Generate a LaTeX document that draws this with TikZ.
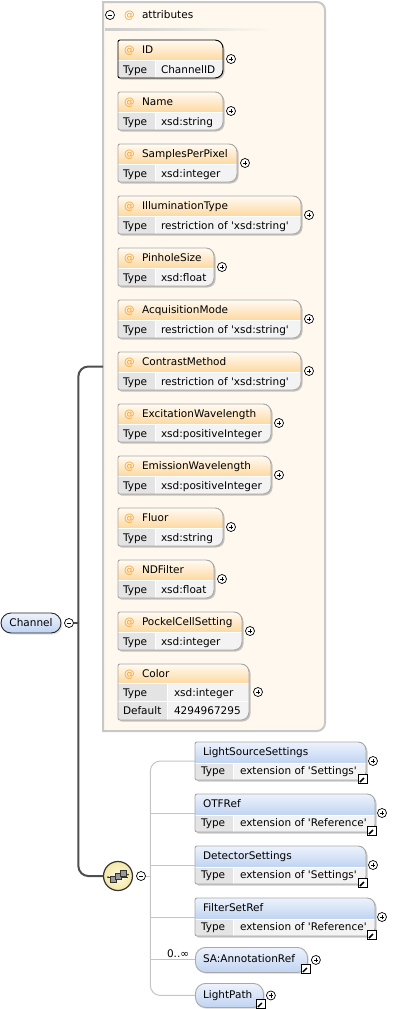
\documentclass[tikz,border=0pt]{standalone}
\usepackage{fontspec}
\setmainfont{DejaVu Sans}
\usetikzlibrary{shadows}

\definecolor{cream}{HTML}{FEF8EE}
\definecolor{frame}{HTML}{C8C8C8}
\definecolor{athead1}{HTML}{FFFBF3}
\definecolor{athead2}{HTML}{FDD9A2}
\definecolor{atsign}{HTML}{F2A43A}
\definecolor{cellkey}{HTML}{E4E4E4}
\definecolor{cellval}{HTML}{F3F3F3}
\definecolor{boxline}{HTML}{A8A8A8}
\definecolor{elhead1}{HTML}{EEF3FC}
\definecolor{elhead2}{HTML}{C0D3F2}
\definecolor{spinecol}{HTML}{4E4E4E}
\definecolor{twigcol}{HTML}{C4C4C4}
\definecolor{seqfill1}{HTML}{FFFCE4}
\definecolor{seqfill2}{HTML}{F4E7A4}

% outline of a table box: small radius on the left, large radius on the right
\newcommand\boxoutline[4]{(#1+2,#2) -- (#3-8,#2) arc[start angle=90,end angle=0,radius=8pt]
  -- (#3,#4-8) arc[start angle=0,end angle=-90,radius=8pt]
  -- (#1+2,#4) arc[start angle=-90,end angle=-180,radius=2pt]
  -- (#1,#2+2) arc[start angle=180,end angle=90,radius=2pt] -- cycle}

\newcommand\sq{\textquotesingle}

% attribute box: name, top, right edge, label, type, frame colour
\newcommand\attrbox[6]{%
  \fill[boxshadow,shift={(1.5,1.5)}] \boxoutline{118}{#2}{#3}{#2+38};
  \begin{scope}
    \clip \boxoutline{118}{#2}{#3}{#2+38};
    \fill[top color=athead1,bottom color=athead2] (118,#2) rectangle (#3,#2+20);
    \fill[cellkey] (118,#2+20) rectangle (155,#2+38);
    \fill[cellval] (155,#2+20) rectangle (#3,#2+38);
    \draw[white,line width=1pt] (118,#2+20) -- (#3,#2+20) (155,#2+20) -- (155,#2+38);
  \end{scope}
  \draw[draw=#6,line width=0.9pt] \boxoutline{118}{#2}{#3}{#2+38};
  \node[hotspot,minimum width={#3-118},minimum height=38] (#1) at (118,#2) {};
  \node[lbl,text=atsign] (#1-at) at (124,#2+13.5) {@};
  \node[lbl] (#1-name) at (142,#2+13.5) {#4};
  \node[lbl] (#1-key) at (123,#2+33) {Type};
  \node[lbl] (#1-type) at (161,#2+33) {#5};
  \node[expander] (#1-more) at ([xshift=8pt]#1.east) {};
}

% element box of the sequence: name, top, right edge, label, type
\newcommand\kidbox[5]{%
  \fill[boxshadow,shift={(1.5,1.5)}] \boxoutline{195}{#2}{#3}{#2+38};
  \begin{scope}
    \clip \boxoutline{195}{#2}{#3}{#2+38};
    \fill[top color=elhead1,bottom color=elhead2] (195,#2) rectangle (#3,#2+21);
    \fill[cellkey] (195,#2+21) rectangle (233,#2+38);
    \fill[cellval] (233,#2+21) rectangle (#3,#2+38);
    \draw[white,line width=1pt] (195,#2+21) -- (#3,#2+21) (233,#2+21) -- (233,#2+38);
  \end{scope}
  \draw[draw=boxline,line width=0.9pt] \boxoutline{195}{#2}{#3}{#2+38};
  \node[hotspot,minimum width={#3-195},minimum height=38] (#1) at (195,#2) {};
  \node[lbl] (#1-name) at (203,#2+13) {#4};
  \node[lbl] (#1-key) at (201,#2+32) {Type};
  \node[lbl] (#1-type) at (240,#2+32) {#5};
  \node[expander] (#1-more) at ([xshift=7pt]#1.east) {};
  \node[linkicon] (#1-link) at ([xshift=-3pt,yshift=1pt]#1.south east) {};
}

\begin{document}
\begin{tikzpicture}[x=1pt,y=-1pt,
  font=\fontsize{10.5}{12}\selectfont,
  lbl/.style={anchor=base west,inner sep=0pt,outer sep=0pt},
  hotspot/.style={rectangle,inner sep=0pt,outer sep=0pt,anchor=north west},
  boxshadow/.style={fill=black,opacity=0.22},
  expander/.style={circle,draw=black,fill=white,line width=0.7pt,minimum size=9pt,inner sep=0pt,
    path picture={\draw[line width=0.7pt]
      ([xshift=-2.4pt]path picture bounding box.center) -- ([xshift=2.4pt]path picture bounding box.center)
      ([yshift=-2.4pt]path picture bounding box.center) -- ([yshift=2.4pt]path picture bounding box.center);}},
  collapse/.style={circle,draw=black,fill=white,line width=0.7pt,minimum size=9pt,inner sep=0pt,
    path picture={\draw[line width=0.7pt]
      ([xshift=-2.4pt]path picture bounding box.center) -- ([xshift=2.4pt]path picture bounding box.center);}},
  linkicon/.style={rectangle,draw=black,fill=white,line width=0.8pt,minimum size=9pt,inner sep=0pt,
    path picture={
      \fill ([xshift=3pt,yshift=3pt]path picture bounding box.center)
        -- ([xshift=3pt,yshift=-1.5pt]path picture bounding box.center)
        -- ([xshift=-1.5pt,yshift=3pt]path picture bounding box.center) -- cycle;
      \draw[line width=1.5pt] ([xshift=-3pt,yshift=-3pt]path picture bounding box.center)
        -- ([xshift=1pt,yshift=1pt]path picture bounding box.center);}},
  elpill/.style={rectangle,rounded corners=10pt,draw=boxline,line width=0.9pt,
    top color=elhead1,bottom color=elhead2,inner sep=0pt,anchor=north west,
    drop shadow={shadow xshift=1.5pt,shadow yshift=-1.5pt,opacity=0.22}},
  chpill/.style={rectangle,rounded corners=10pt,draw=black!85,line width=0.9pt,
    top color=elhead1,bottom color=elhead2,inner sep=0pt,
    drop shadow={shadow xshift=1.5pt,shadow yshift=-1.5pt,opacity=0.22}},
  spineline/.style={draw=spinecol,line width=2pt},
  twigline/.style={draw=twigcol,line width=1pt},
  seqnode/.style={circle,draw=black!80,line width=1.2pt,minimum size=29pt,inner sep=0pt,
    inner color=seqfill1,outer color=seqfill2}
]
\useasboundingbox (0,0) rectangle (407,1009);

% ---- attribute group frame ----
\fill[cream] (103,2) -- (317,2) arc[start angle=90,end angle=0,radius=8pt]
  -- (325,723) arc[start angle=0,end angle=-90,radius=8pt] -- (103,731) -- cycle;
\draw[frame,line width=2pt] (103,2) -- (317,2) arc[start angle=90,end angle=0,radius=8pt]
  -- (325,723) arc[start angle=0,end angle=-90,radius=8pt] -- (103,731) -- cycle;
\node[hotspot,minimum width=222,minimum height=729] (attrs) at (103,2) {};
\node[collapse] (attrs-min) at (110,15) {};
\node[lbl,text=atsign] (attrs-at) at (124,19) {@};
\node[lbl] (attrs-title) at (142,19) {attributes};
\shade[left color=black!20,right color=cream] (105,28.5) rectangle (272,30.5);

% ---- root element and its spine ----
\node[chpill,minimum width=60,minimum height=20] (channel) at (31,623) {Channel};
\node[collapse] (chmin) at (69,623) {};
\node[seqnode] (seq) at (118,876) {};
\node[collapse] (seqmin) at (141,876) {};
\coordinate (chjoin) at ([xshift=4.5pt]chmin.east);
\draw[spineline] (chmin.east) -- (chjoin);
\draw[spineline,rounded corners=10pt] (chjoin) |- (attrs.west);
\draw[spineline,rounded corners=10pt] (chjoin) |- (seq.west);

% sequence symbol
\begin{scope}[shift={(seq.center)}]
  \draw[black!80,line width=0.8pt] (-10,1) -- (10,1);
  \fill[black!80] (-10,1) circle (1pt) (10,-1.5) circle (1pt);
  \foreach \dx/\dy in {-5/3,0/0,5/-3}
    \filldraw[fill=black!40,draw=black!80,line width=0.5pt] (\dx-3,\dy-3) rectangle (\dx+3,\dy+3);
\end{scope}

% ---- attributes ----
\attrbox{id}{40}{223}{ID}{ChannelID}{black}
\attrbox{name}{92}{223}{Name}{xsd:string}{boxline}
\attrbox{spp}{144}{237}{SamplesPerPixel}{xsd:integer}{boxline}
\attrbox{illum}{196}{301}{IlluminationType}{restriction of \sq xsd:string\sq}{boxline}
\attrbox{pinhole}{248}{214}{PinholeSize}{xsd:float}{boxline}
\attrbox{acq}{300}{301}{AcquisitionMode}{restriction of \sq xsd:string\sq}{boxline}
\attrbox{contrast}{352}{301}{ContrastMethod}{restriction of \sq xsd:string\sq}{boxline}
\attrbox{exc}{404}{271}{ExcitationWavelength}{xsd:positiveInteger}{boxline}
\attrbox{emi}{456}{271}{EmissionWavelength}{xsd:positiveInteger}{boxline}
\attrbox{fluor}{508}{223}{Fluor}{xsd:string}{boxline}
\attrbox{nd}{560}{214}{NDFilter}{xsd:float}{boxline}
\attrbox{pockel}{612}{242}{PockelCellSetting}{xsd:integer}{boxline}

% Color: three rows
\fill[boxshadow,shift={(1.5,1.5)}] \boxoutline{118}{664}{249}{720};
\begin{scope}
  \clip \boxoutline{118}{664}{249}{720};
  \fill[top color=athead1,bottom color=athead2] (118,664) rectangle (249,683);
  \fill[cellkey] (118,683) rectangle (167,720);
  \fill[cellval] (167,683) rectangle (249,720);
  \draw[white,line width=1pt] (118,683) -- (249,683) (118,701.5) -- (249,701.5) (167,683) -- (167,720);
\end{scope}
\draw[boxline,line width=0.9pt] \boxoutline{118}{664}{249}{720};
\node[hotspot,minimum width=131,minimum height=56] (color) at (118,664) {};
\node[lbl,text=atsign] (color-at) at (124,677.5) {@};
\node[lbl] (color-name) at (142,677.5) {Color};
\node[lbl] (color-key) at (123,696) {Type};
\node[lbl] (color-type) at (174,696) {xsd:integer};
\node[lbl] (color-dkey) at (123,714.5) {Default};
\node[lbl] (color-default) at (174,714.5) {4294967295};
\node[expander] (color-more) at ([xshift=9pt]color.east) {};

% ---- sequence children ----
\kidbox{lss}{742}{366}{LightSourceSettings}{extension of \sq Settings\sq}
\kidbox{otf}{794}{375}{OTFRef}{extension of \sq Reference\sq}
\kidbox{det}{846}{366}{DetectorSettings}{extension of \sq Settings\sq}
\kidbox{fsr}{898}{375}{FilterSetRef}{extension of \sq Reference\sq}

\node[elpill,minimum width=112,minimum height=25] (sa) at (195,947) {};
\node[lbl] (sa-name) at (203,962) {SA:AnnotationRef};
\node[expander] (sa-more) at ([xshift=8pt]sa.east) {};
\node[linkicon] (sa-link) at ([xshift=-2pt,yshift=4pt]sa.south east) {};
\node[lbl] (sa-card) at (167,957) {0..∞};

\node[elpill,minimum width=68,minimum height=24] (lp) at (195,983) {};
\node[lbl] (lp-name) at (203,998) {LightPath};
\node[expander] (lp-more) at ([xshift=7pt]lp.east) {};
\node[linkicon] (lp-link) at ([xshift=-3pt,yshift=4pt]lp.south east) {};

% branches of the sequence
\coordinate (seqjoin) at ([xshift=4.5pt]seqmin.east);
\draw[twigline] (seqmin.east) -- (seqjoin);
\draw[twigline,rounded corners=10pt] (seqjoin) |- (lss.west);
\draw[twigline,rounded corners=10pt] (seqjoin) |- (lp.west);
\draw[twigline] (seqjoin |- otf.west) -- (otf.west);
\draw[twigline] (seqjoin |- det.west) -- (det.west);
\draw[twigline] (seqjoin |- fsr.west) -- (fsr.west);
\draw[twigline] (seqjoin |- sa.west) -- (sa.west);
\end{tikzpicture}
\end{document}
